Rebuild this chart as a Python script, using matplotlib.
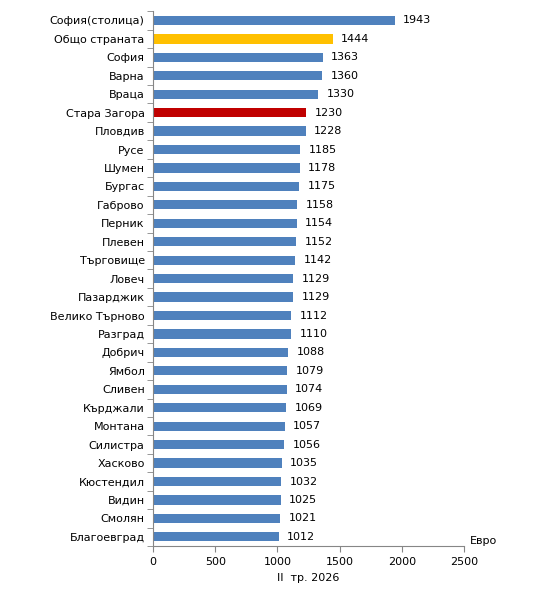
import numpy as np
import matplotlib
matplotlib.use("Agg")
import matplotlib.pyplot as plt

regions = ["София(столица)", "Общо страната", "София", "Варна", "Враца",
           "Стара Загора", "Пловдив", "Русе", "Шумен", "Бургас", "Габрово",
           "Перник", "Плевен", "Търговище", "Ловеч", "Пазарджик",
           "Велико Търново", "Разград", "Добрич", "Ямбол", "Сливен",
           "Кърджали", "Монтана", "Силистра", "Хасково", "Кюстендил",
           "Видин", "Смолян", "Благоевград"]
salaries = [1943, 1444, 1363, 1360, 1330, 1230, 1228, 1185, 1178, 1175,
            1158, 1154, 1152, 1142, 1129, 1129, 1112, 1110, 1088, 1079,
            1074, 1069, 1057, 1056, 1035, 1032, 1025, 1021, 1012]
x_ticks = [0, 500, 1000, 1500, 2000, 2500]

BLUE = "#4F81BD"
colors = [BLUE] * len(regions)
colors[regions.index("Общо страната")] = "#FFC000"
colors[regions.index("Стара Загора")] = "#C00000"

FS = 8
plt.rcParams["font.family"] = ["DejaVu Sans"]
fig = plt.figure(figsize=(5.37, 5.91), dpi=100)
ax = fig.add_axes([0.285, 0.076, 0.579, 0.905])

y = np.arange(len(regions))
ax.barh(y, salaries, height=0.5, color=colors)
for yi, v in zip(y, salaries):
    ax.annotate(str(v), (v, yi), xytext=(6, 0), textcoords="offset points",
                va="center", ha="left", fontsize=FS)

ax.set_ylim(len(regions) - 0.5, -0.5)
ax.set_xlim(0, 2500)
ax.set_xticks(x_ticks)
ax.tick_params(axis="x", labelsize=FS, length=4, color="#868686")
ax.set_yticks(y)
ax.set_yticklabels(regions, fontsize=FS)
ax.tick_params(axis="y", which="major", length=0, pad=6)
ax.set_yticks(np.arange(len(regions) + 1) - 0.5, minor=True)
ax.tick_params(axis="y", which="minor", length=4, color="#868686")

for s in ["top", "right"]:
    ax.spines[s].set_visible(False)
for s in ["left", "bottom"]:
    ax.spines[s].set_color("#868686")

ax.set_xlabel("II  тр. 2026", fontsize=FS, labelpad=5)
ax.text(1.02, 0.0, "Евро", transform=ax.transAxes, fontsize=FS,
        ha="left", va="bottom")

fig.savefig("out.png", dpi=100)
